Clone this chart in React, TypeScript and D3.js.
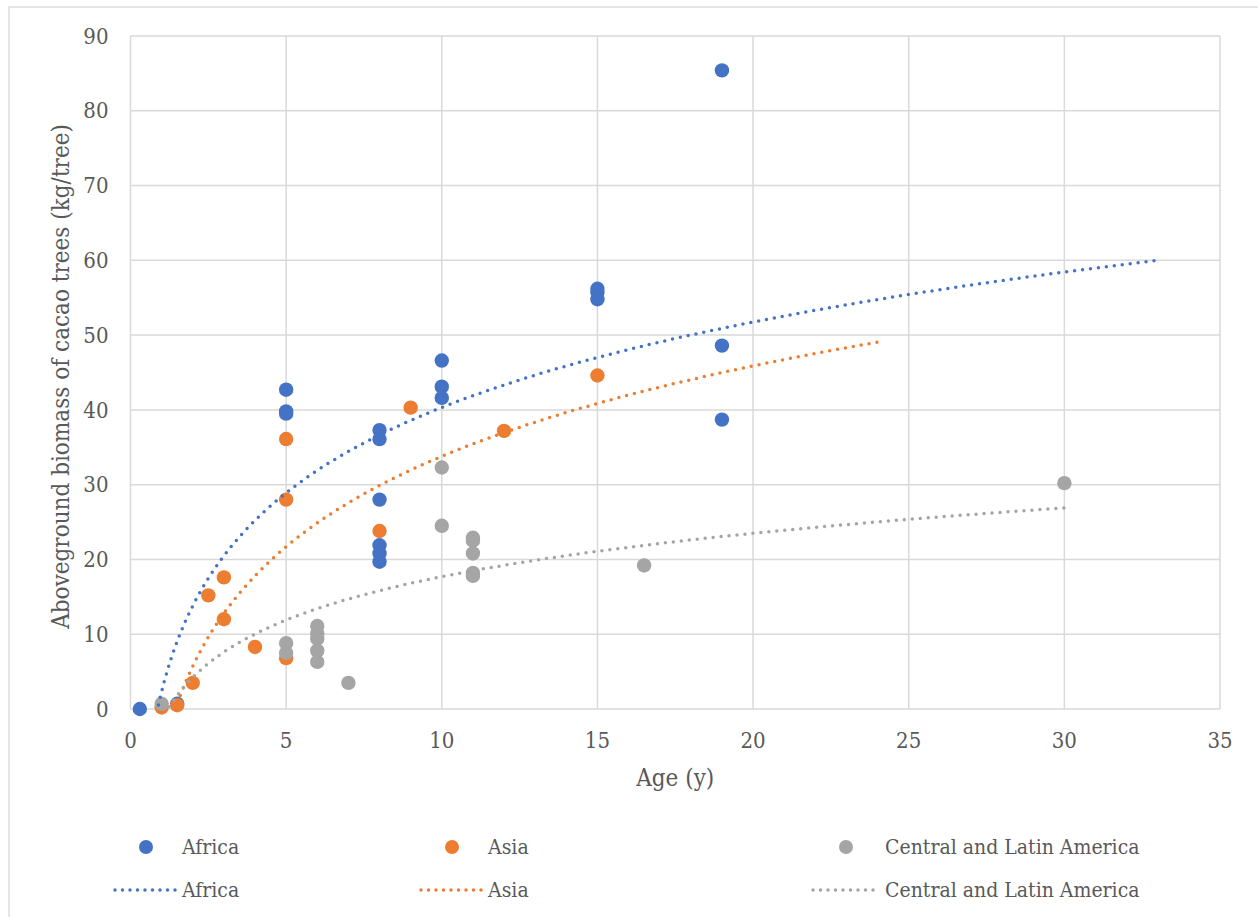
import React from 'react';
import * as d3 from 'd3';

// ages (y) and aboveground biomass (kg/tree)
const africaAge = [0.3, 1.5, 5, 5, 5, 8, 8, 8, 8, 8, 8, 10, 10, 10, 15, 15, 15, 19, 19, 19];
const africaBiomass = [0, 0.7, 42.7, 39.8, 39.5, 37.3, 36.1, 28.0, 21.9, 20.8, 19.7, 46.6, 43.1, 41.6, 56.2, 55.7, 54.8, 85.4, 48.6, 38.7];

const asiaAge = [1, 1.5, 2, 2.5, 3, 3, 4, 5, 5, 5, 8, 9, 12, 15];
const asiaBiomass = [0.2, 0.5, 3.5, 15.2, 17.6, 12.0, 8.3, 6.8, 36.1, 28.0, 23.8, 40.3, 37.2, 44.6];

const latamAge = [1, 5, 5, 6, 6, 6, 6, 6, 7, 10, 10, 11, 11, 11, 11, 11, 16.5, 30];
const latamBiomass = [0.7, 8.8, 7.5, 11.1, 10.1, 9.4, 7.8, 6.3, 3.5, 32.3, 24.5, 22.9, 22.5, 20.8, 18.2, 17.8, 19.2, 30.2];

// logarithmic trendlines y = a ln(x) + b, with the x range they are drawn over
const trendA = [16.48, 17.44, 8.37];
const trendB = [2.38, -6.37, -1.58];
const trendRange: [number, number][] = [[0.3, 33], [1, 24.2], [1, 30]];

const seriesNames = ['Africa', 'Asia', 'Central and Latin America'];
const colors = ['#4472C4', '#ED7D31', '#A5A5A5'];

const xTicks = [0, 5, 10, 15, 20, 25, 30, 35];
const yTicks = [0, 10, 20, 30, 40, 50, 60, 70, 80, 90];

const W = 1258;
const H = 917;
const margin = { left: 130.5, right: 38, top: 36, bottom: 208 };
const font = '"DejaVu Serif Condensed", "DejaVu Serif", serif';
const textColor = '#595959';
const gridColor = '#D9D9D9';

const App: React.FC = () => {
    const x = d3.scaleLinear().domain([0, 35]).range([margin.left, W - margin.right]);
    const y = d3.scaleLinear().domain([0, 90]).range([H - margin.bottom, margin.top]);

    const points = [
        africaAge.map((a, i) => [a, africaBiomass[i]]),
        asiaAge.map((a, i) => [a, asiaBiomass[i]]),
        latamAge.map((a, i) => [a, latamBiomass[i]]),
    ];

    // sample each log trend along its range
    const trendPaths = trendA.map((a, s) => {
        const [x0, x1] = trendRange[s];
        const xs = d3.range(0, 201).map(k => x0 + (x1 - x0) * k / 200);
        return d3.line<number>()
            .x(v => x(v))
            .y(v => y(a * Math.log(v) + trendB[s]))(xs) || '';
    });

    const legendCols = [{ marker: 146, text: 182, l0: 115, l1: 176 },
        { marker: 452, text: 488, l0: 421, l1: 482 },
        { marker: 846, text: 885, l0: 813, l1: 878 }];

    const txt = { fontFamily: font, fill: textColor, style: { fontStretch: 'condensed' } };

    return (
        <svg width={W} height={H} style={{ position: 'absolute', left: 0, top: 0, background: '#fff' }}>
            <rect x={9} y={7} width={W + 10} height={H + 10} fill="#fff" stroke={gridColor} strokeWidth={1.3} />
            <defs>
                <clipPath id="plot">
                    <rect x={x(0)} y={y(90)} width={x(35) - x(0)} height={y(0) - y(90)} />
                </clipPath>
            </defs>
            {/* gridlines */}
            {xTicks.map(t => (
                <line key={'gx' + t} x1={x(t)} x2={x(t)} y1={y(0)} y2={y(90)} stroke={gridColor} strokeWidth={1.5} />
            ))}
            {yTicks.map(t => (
                <line key={'gy' + t} x1={x(0)} x2={x(35)} y1={y(t)} y2={y(t)} stroke={gridColor} strokeWidth={1.5} />
            ))}
            {/* tick labels */}
            {xTicks.map(t => (
                <text key={'tx' + t} x={x(t)} y={y(0) + 39} textAnchor="middle" fontSize={22} {...txt}>{t}</text>
            ))}
            {yTicks.map(t => (
                <text key={'ty' + t} x={x(0) - 22} y={y(t)} dy="0.35em" textAnchor="end" fontSize={22} {...txt}>{t}</text>
            ))}
            {/* axis titles */}
            <text x={(x(0) + x(35)) / 2} y={786} textAnchor="middle" fontSize={24} {...txt}>Age (y)</text>
            <text transform={`translate(69,${(y(0) + y(90)) / 2 + 4}) rotate(-90)`} textAnchor="middle" fontSize={24} {...txt}>
                Aboveground biomass of cacao trees (kg/tree)
            </text>
            {/* markers */}
            {points.map((pts, s) => (
                <g key={'s' + s}>
                    {pts.map((p, i) => (
                        <circle key={i} cx={x(p[0])} cy={y(p[1])} r={7.2} fill={colors[s]} />
                    ))}
                </g>
            ))}
            {/* trendlines */}
            <g clipPath="url(#plot)">
                {trendPaths.map((d, s) => (
                    <path key={'t' + s} d={d} fill="none" stroke={colors[s]} strokeWidth={3.5} strokeDasharray="0 8" strokeLinecap="round" />
                ))}
            </g>
            {/* legend */}
            {seriesNames.map((name, s) => (
                <g key={'lg' + s}>
                    <circle cx={legendCols[s].marker} cy={847} r={7} fill={colors[s]} />
                    <text x={legendCols[s].text} y={847} dy="0.35em" fontSize={21} {...txt}>{name}</text>
                    <line x1={legendCols[s].l0} x2={legendCols[s].l1} y1={890} y2={890} stroke={colors[s]} strokeWidth={3.5} strokeDasharray="0 7.5" strokeLinecap="round" />
                    <text x={legendCols[s].text} y={890} dy="0.35em" fontSize={21} {...txt}>{name}</text>
                </g>
            ))}
        </svg>
    );
};

export default App;
